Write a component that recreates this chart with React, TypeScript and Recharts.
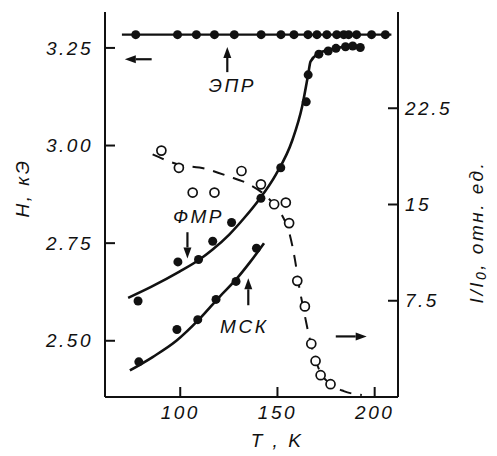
import React from 'react';
import { ComposedChart, XAxis, YAxis, Line, Scatter, ReferenceLine, ReferenceDot } from 'recharts';

const tTicks = [100, 150, 200];
const hTicks = [2.5, 2.75, 3.0, 3.25];
const iTicks = [7.5, 15, 22.5];

const eprPoints = [
  { T: 77.1, H: 3.284 }, { T: 98.6, H: 3.284 }, { T: 108.3, H: 3.284 }, { T: 117.6, H: 3.284 },
  { T: 127.8, H: 3.284 }, { T: 141.6, H: 3.284 }, { T: 151.8, H: 3.284 }, { T: 158.5, H: 3.284 },
  { T: 165.7, H: 3.284 }, { T: 170.3, H: 3.284 }, { T: 175.4, H: 3.284 }, { T: 180.5, H: 3.284 },
  { T: 184.1, H: 3.284 }, { T: 186.6, H: 3.284 }, { T: 190.7, H: 3.284 }, { T: 198.4, H: 3.284 },
  { T: 205.5, H: 3.284 },
];
const eprLine = [{ T: 70, H: 3.284 }, { T: 208.6, H: 3.284 }];

const fmrPoints = [
  { T: 78.3, H: 2.602 }, { T: 98.8, H: 2.702 }, { T: 109.4, H: 2.708 }, { T: 116.7, H: 2.755 },
  { T: 126.4, H: 2.803 }, { T: 141.5, H: 2.865 }, { T: 151.7, H: 2.943 }, { T: 164.8, H: 3.112 },
  { T: 165.8, H: 3.181 }, { T: 171.3, H: 3.234 }, { T: 176.1, H: 3.242 }, { T: 180.1, H: 3.249 },
  { T: 185.0, H: 3.253 }, { T: 188.7, H: 3.255 }, { T: 192.6, H: 3.251 },
];
const fmrCurve = [
  { T: 73.2, H: 2.61 }, { T: 85, H: 2.638 }, { T: 99.6, H: 2.677 }, { T: 109.9, H: 2.708 },
  { T: 116.5, H: 2.733 }, { T: 125.2, H: 2.772 }, { T: 133, H: 2.815 }, { T: 140.6, H: 2.862 },
  { T: 149.1, H: 2.925 }, { T: 157.6, H: 3.013 }, { T: 162.7, H: 3.1 }, { T: 165.8, H: 3.182 },
  { T: 167.0, H: 3.215 }, { T: 171.3, H: 3.236 }, { T: 176.4, H: 3.245 }, { T: 181.5, H: 3.251 },
  { T: 186.6, H: 3.253 }, { T: 192.6, H: 3.252 },
];

const mskPoints = [
  { T: 78.7, H: 2.446 }, { T: 98.3, H: 2.529 }, { T: 109.0, H: 2.554 },
  { T: 118.4, H: 2.606 }, { T: 128.7, H: 2.652 }, { T: 139.2, H: 2.737 },
];
const mskCurve = [
  { T: 74.1, H: 2.424 }, { T: 86, H: 2.459 }, { T: 98, H: 2.5 }, { T: 109.9, H: 2.556 },
  { T: 120.1, H: 2.612 }, { T: 128.7, H: 2.657 }, { T: 136, H: 2.702 }, { T: 143.1, H: 2.75 },
];

const intPoints = [
  { T: 90.3, I: 19.2 }, { T: 99.3, I: 17.86 }, { T: 106.4, I: 15.93 }, { T: 117.6, I: 15.93 },
  { T: 131.5, I: 17.61 }, { T: 141.5, I: 16.57 }, { T: 148.3, I: 15.02 }, { T: 154.3, I: 15.15 },
  { T: 156.0, I: 13.55 }, { T: 160.2, I: 9.05 }, { T: 164.1, I: 7.06 }, { T: 167.4, I: 4.15 },
  { T: 169.6, I: 2.81 }, { T: 172.2, I: 1.7 }, { T: 177.3, I: 1.0 },
];
const intCurve = [
  { T: 85.8, I: 18.9 }, { T: 99.6, I: 18.1 }, { T: 112.4, I: 17.8 }, { T: 124.7, I: 17.2 },
  { T: 135, I: 16.6 }, { T: 143.1, I: 15.8 }, { T: 148.3, I: 15.0 }, { T: 152.4, I: 14.15 },
  { T: 155.9, I: 12.9 }, { T: 159, I: 10.7 }, { T: 161.1, I: 8.66 }, { T: 163.6, I: 6.7 },
  { T: 166.2, I: 4.8 }, { T: 169.3, I: 3.0 }, { T: 172.3, I: 1.86 }, { T: 177.4, I: 1.0 },
  { T: 184.1, I: 0.46 }, { T: 193.4, I: 0.15 },
];

const FONT = "'Liberation Sans', Arial, sans-serif";
const INK = '#111';
const txtStyle: React.CSSProperties = {
  fontFamily: FONT, fontStyle: 'italic', fontSize: 19, letterSpacing: 2.5, fill: INK,
};

const fmtH = (v: number) => v.toFixed(2);
const fmtI = (v: number) => String(v);
const fmtT = (v: number) => String(v);

const mkTick = (fmt: (v: number) => string, anchor: string, dy: string) => (p: any) => (
  <text x={p.x} y={p.y} dy={dy} textAnchor={anchor} style={txtStyle}>{fmt(p.payload.value)}</text>
);

const filledDot = (p: any) => <circle cx={p.cx} cy={p.cy} r={4.5} fill={INK} />;
const openDot = (p: any) => <circle cx={p.cx} cy={p.cy} r={4.5} fill="#fff" stroke={INK} strokeWidth={1.7} />;

const Arrow = (p: any) => {
  const { x1, y1, x2, y2 } = p;
  const dx = x2 - x1, dy = y2 - y1;
  const len = Math.sqrt(dx * dx + dy * dy) || 1;
  const ux = dx / len, uy = dy / len;
  const hl = 11, hw = 4;
  const bx = x2 - ux * hl, by = y2 - uy * hl;
  const pts = `${x2},${y2} ${bx - uy * hw},${by + ux * hw} ${bx + uy * hw},${by - ux * hw}`;
  return (
    <g>
      <line x1={x1} y1={y1} x2={bx} y2={by} stroke={INK} strokeWidth={2.2} />
      <polygon points={pts} fill={INK} />
    </g>
  );
};

const mkText = (s: string) => (p: any) => (
  <text x={p.cx} y={p.cy} textAnchor="middle" dominantBaseline="central" style={txtStyle}>{s}</text>
);

const leftLabel = (p: any) => {
  const vb = p.viewBox || { x: 0, y: 12, width: 105, height: 385 };
  const x = vb.x + 22, y = vb.y + 176;
  return (
    <text x={x} y={y} transform={`rotate(-90 ${x} ${y})`} textAnchor="middle" dominantBaseline="central" style={txtStyle}>
      H, кЭ
    </text>
  );
};

const rightLabel = (p: any) => {
  const vb = p.viewBox || { x: 398, y: 12, width: 99, height: 385 };
  const x = vb.x + 78, y = vb.y + 220;
  return (
    <text x={x} y={y} transform={`rotate(-90 ${x} ${y})`} textAnchor="middle" dominantBaseline="central" style={txtStyle}>
      I/I<tspan dy={5} fontSize={14}>0</tspan><tspan dy={-5}>, отн. ед.</tspan>
    </text>
  );
};

const bottomLabel = (p: any) => {
  const vb = p.viewBox || { x: 105, y: 397, width: 293, height: 59 };
  const x = vb.x + 172, y = vb.y + 43;
  return (
    <text x={x} y={y} textAnchor="middle" dominantBaseline="central" style={txtStyle}>T , K</text>
  );
};

export default function App() {
  return (
    <div style={{ position: 'absolute', left: 0, top: 0, width: 497, height: 456, background: '#fff' }}>
      <ComposedChart width={497} height={456} margin={{ top: 12, right: 0, bottom: 0, left: 0 }}>
        <XAxis
          type="number" dataKey="T" domain={[61.3, 212]} allowDataOverflow ticks={tTicks}
          height={59} tickSize={-10} tickMargin={17}
          axisLine={{ stroke: INK, strokeWidth: 2 }} tickLine={{ stroke: INK, strokeWidth: 2 }}
          tick={mkTick(fmtT, 'middle', '0.8em')} label={bottomLabel}
        />
        <YAxis
          yAxisId="H" orientation="left" type="number" domain={[2.356, 3.342]} allowDataOverflow ticks={hTicks}
          width={105} tickSize={-10} tickMargin={22}
          axisLine={{ stroke: INK, strokeWidth: 2 }} tickLine={{ stroke: INK, strokeWidth: 2 }}
          tick={mkTick(fmtH, 'end', '0.35em')} label={leftLabel}
        />
        <YAxis
          yAxisId="I" orientation="right" type="number" domain={[0, 30]} allowDataOverflow ticks={iTicks}
          width={99} tickSize={-10} tickMargin={17}
          axisLine={{ stroke: INK, strokeWidth: 2 }} tickLine={{ stroke: INK, strokeWidth: 2 }}
          tick={mkTick(fmtI, 'start', '0.35em')} label={rightLabel}
        />

        <Line yAxisId="H" data={eprLine} dataKey="H" type="linear" stroke={INK} strokeWidth={2.4} dot={false} isAnimationActive={false} />
        <Line yAxisId="H" data={fmrCurve} dataKey="H" type="monotone" stroke={INK} strokeWidth={2.6} dot={false} isAnimationActive={false} />
        <Line yAxisId="H" data={mskCurve} dataKey="H" type="monotone" stroke={INK} strokeWidth={2.6} dot={false} isAnimationActive={false} />
        <Line yAxisId="I" data={intCurve} dataKey="I" type="monotone" stroke={INK} strokeWidth={2} strokeDasharray="12 9" dot={false} isAnimationActive={false} />

        <Scatter yAxisId="H" data={eprPoints} dataKey="H" shape={filledDot} isAnimationActive={false} />
        <Scatter yAxisId="H" data={fmrPoints} dataKey="H" shape={filledDot} isAnimationActive={false} />
        <Scatter yAxisId="H" data={mskPoints} dataKey="H" shape={filledDot} isAnimationActive={false} />
        <Scatter yAxisId="I" data={intPoints} dataKey="I" shape={openDot} isAnimationActive={false} />

        <ReferenceLine yAxisId="H" segment={[{ x: 124.2, y: 3.188 }, { x: 124.2, y: 3.2526 }]} shape={Arrow} />
        <ReferenceLine yAxisId="H" segment={[{ x: 85.3, y: 3.221 }, { x: 71.5, y: 3.221 }]} shape={Arrow} />
        <ReferenceLine yAxisId="H" segment={[{ x: 103.7, y: 2.778 }, { x: 103.7, y: 2.711 }]} shape={Arrow} />
        <ReferenceLine yAxisId="H" segment={[{ x: 135, y: 2.591 }, { x: 135, y: 2.660 }]} shape={Arrow} />
        <ReferenceLine yAxisId="I" segment={[{ x: 180, y: 4.72 }, { x: 195.9, y: 4.72 }]} shape={Arrow} />

        <ReferenceDot yAxisId="H" x={126.8} y={3.153} r={0} shape={mkText('ЭПР')} />
        <ReferenceDot yAxisId="H" x={109.4} y={2.819} r={0} shape={mkText('ФМР')} />
        <ReferenceDot yAxisId="H" x={132.9} y={2.537} r={0} shape={mkText('МСК')} />
      </ComposedChart>
    </div>
  );
}
